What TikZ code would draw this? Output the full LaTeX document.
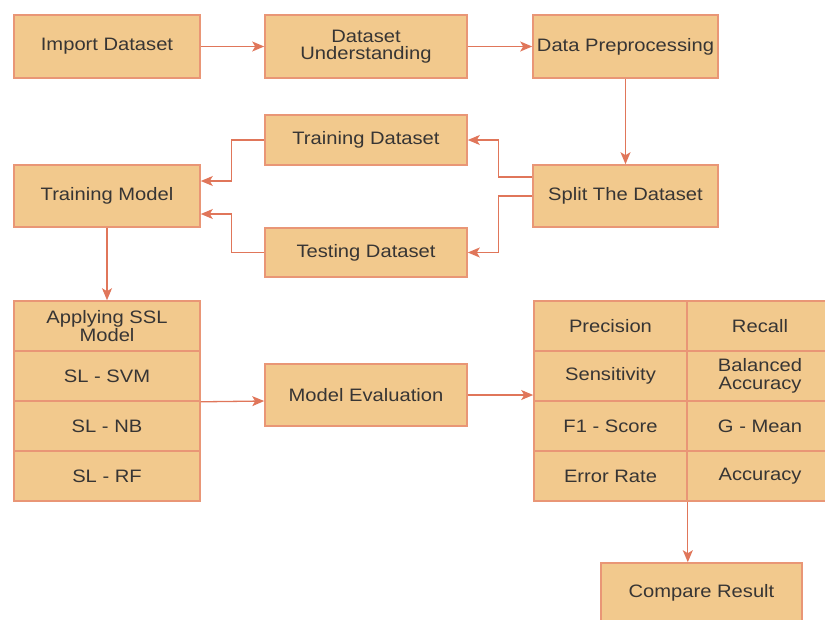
\documentclass[tikz,border=0pt]{standalone}
\usepackage{fontspec}
\setmainfont{Liberation Sans}[FakeStretch=1.12]
\usetikzlibrary{arrows.meta,calc}
\definecolor{boxfill}{RGB}{242,201,141}
\definecolor{boxline}{RGB}{233,150,118}
\definecolor{arrcol}{RGB}{224,118,90}
\definecolor{txtcol}{RGB}{55,53,52}
\tikzset{
  box/.style={draw=boxline, fill=boxfill, line width=1.6pt, inner sep=0pt,
    align=center, text=txtcol, font=\fontsize{18}{17.5}\selectfont},
  arr/.style={draw=arrcol, line width=1.3pt,
    -{Stealth[length=12pt,width=10pt,inset=3pt]}},
}
\begin{document}
\begin{tikzpicture}[x=1pt,y=-1pt]
\useasboundingbox (0,0) rectangle (825,619);
\clip (0,0) rectangle (825,619);
% top row
\node[box, minimum width=186pt, minimum height=63pt] (imp) at (107,46.5) {Import Dataset};
\node[box, minimum width=202pt, minimum height=63pt] (und) at (366,46.5) {Dataset\\Understanding};
\node[box, minimum width=185pt, minimum height=63pt] (pre) at (625.5,46.5) {Data Preprocessing};
% middle
\node[box, minimum width=202pt, minimum height=50pt] (trd) at (366,140) {Training Dataset};
\node[box, minimum width=186pt, minimum height=62pt] (tm) at (107,196) {Training Model};
\node[box, minimum width=185pt, minimum height=62pt] (spl) at (625.5,196) {Split The Dataset};
\node[box, minimum width=202pt, minimum height=49pt] (ted) at (366,252.5) {Testing Dataset};
% SSL stack
\node[box, minimum width=186pt, minimum height=50pt] (s1) at (107,326) {Applying SSL\\Model};
\node[box, minimum width=186pt, minimum height=50pt] (s2) at (107,376) {SL - SVM};
\node[box, minimum width=186pt, minimum height=50pt] (s3) at (107,426) {SL - NB};
\node[box, minimum width=186pt, minimum height=50pt] (s4) at (107,476) {SL - RF};
% model evaluation
\node[box, minimum width=202pt, minimum height=62pt] (me) at (366,395) {Model Evaluation};
% metrics table
\node[box, minimum width=153pt, minimum height=50pt] (m11) at (610.5,326) {Precision};
\node[box, minimum width=146pt, minimum height=50pt] (m12) at (760,326) {Recall};
\node[box, minimum width=153pt, minimum height=50pt] (m21) at (610.5,376) {Sensitivity};
\node[box, minimum width=146pt, minimum height=50pt] (m22) at (760,376) {Balanced\\Accuracy};
\node[box, minimum width=153pt, minimum height=50pt] (m31) at (610.5,426) {F1 - Score};
\node[box, minimum width=146pt, minimum height=50pt] (m32) at (760,426) {G - Mean};
\node[box, minimum width=153pt, minimum height=50pt] (m41) at (610.5,476) {Error Rate};
\node[box, minimum width=146pt, minimum height=50pt] (m42) at (760,476) {Accuracy};
% compare
\node[box, minimum width=201pt, minimum height=60pt] (cmp) at (701.5,593) {Compare Result};
% connectors
\draw[arr] (imp.east) -- (und.west);
\draw[arr] (und.east) -- (pre.west);
\draw[arr] (pre.south) -- (spl.north);
\draw[arr] ([yshift=19pt]spl.west) -- ++(-34,0) |- (trd.east);
\draw[arr] (spl.west) -- ++(-34,0) |- (ted.east);
\draw[arr] (trd.west) -- ++(-33,0) |- ([yshift=15pt]tm.east);
\draw[arr] (ted.west) -- ++(-33,0) |- ([yshift=-18pt]tm.east);
\draw[arr] (tm.south) -- (s1.north);
\draw[arr] (s2.south east) -- ([yshift=-6pt]me.west);
\draw[arr] (me.east) -- (me.east -| m21.west);
\draw[arr] (m41.south east) -- (m41.south east |- cmp.north);
\end{tikzpicture}
\end{document}
